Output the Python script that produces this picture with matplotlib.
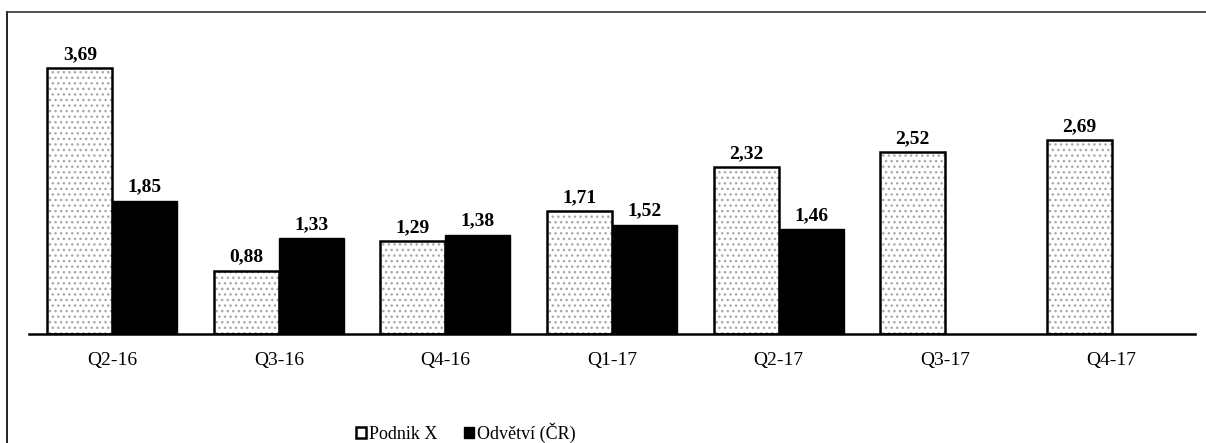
import matplotlib.pyplot as plt
from matplotlib.lines import Line2D
from matplotlib.patches import Patch
import numpy as np

plt.rcParams['font.family'] = ['Liberation Serif', 'DejaVu Serif']

quarters = ['Q2-16', 'Q3-16', 'Q4-16', 'Q1-17', 'Q2-17', 'Q3-17', 'Q4-17']
podnik = [3.69, 0.88, 1.29, 1.71, 2.32, 2.52, 2.69]
odvetvi = [1.85, 1.33, 1.38, 1.52, 1.46, None, None]

fig = plt.figure(figsize=(12.06, 4.43), dpi=100)
ax = fig.add_axes([29 / 1206, 109 / 443, 1166 / 1206, 304 / 443])

x = np.arange(len(quarters))
w = 0.39

# dotted fill first, then the black outline on top
ax.bar(x - w / 2, podnik, w, color='white', hatch='...', edgecolor='#a8a8a8', linewidth=0)
ax.bar(x - w / 2, podnik, w, fill=False, edgecolor='black', linewidth=1.8)
for xi, v in zip(x, podnik):
    ax.text(xi - w / 2, v + 0.07, f'{v:.2f}'.replace('.', ','), ha='center', va='bottom',
            fontsize=14, fontweight='bold')

ox = [xi for xi, v in zip(x, odvetvi) if v is not None]
ov = [v for v in odvetvi if v is not None]
ax.bar(np.array(ox) + w / 2, ov, w, color='black', edgecolor='black', linewidth=1)
for xi, v in zip(ox, ov):
    ax.text(xi + w / 2, v + 0.07, f'{v:.2f}'.replace('.', ','), ha='center', va='bottom',
            fontsize=14, fontweight='bold')

ax.set_xlim(-0.5, 6.5)
ax.set_ylim(0, 4.22)
ax.set_xticks(x)
ax.set_xticklabels(quarters, fontsize=14)
ax.tick_params(axis='x', length=0, pad=13)
ax.set_yticks([])
for s in ['top', 'right', 'left']:
    ax.spines[s].set_visible(False)
ax.spines['bottom'].set_linewidth(1.8)

handles = [Patch(facecolor='white', edgecolor='black', linewidth=1.8),
           Patch(facecolor='black', edgecolor='black')]
fig.legend(handles, ['Podnik X', 'Odvětví (ČR)'], loc='center', bbox_to_anchor=(466 / 1206, 1 - 433 / 443),
           ncol=2, frameon=False, fontsize=13, handlelength=0.55, handleheight=0.55,
           handletextpad=0.15, columnspacing=1.5)

# outer frame (top and left edges)
fig.add_artist(Line2D([7 / 1206, 7 / 1206], [0, 1 - 12 / 443], color='black', lw=1.2))
fig.add_artist(Line2D([7 / 1206, 1], [1 - 12 / 443, 1 - 12 / 443], color='#333333', lw=1.2))

fig.savefig('out.png', dpi=100)
